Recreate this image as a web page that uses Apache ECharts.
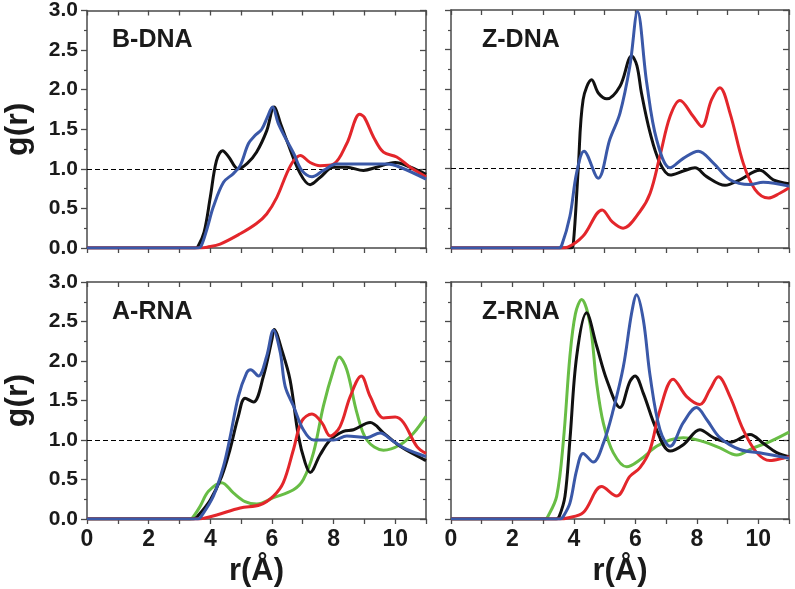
<!DOCTYPE html>
<html><head><meta charset="utf-8">
<script src="https://cdn.jsdelivr.net/npm/echarts@6/dist/echarts.min.js"></script>
<style>html,body{margin:0;padding:0;background:#fff}#c{width:795px;height:589px}</style>
</head><body><div id="c"></div>
<script>
// ---------- DATA (r in Å, g(r)) ----------
const panelNames = ['B-DNA', 'Z-DNA', 'A-RNA', 'Z-RNA'];
const xTickLabels = ['0', '2', '4', '6', '8', '10'];
const yTickLabels = ['0.0', '0.5', '1.0', '1.5', '2.0', '2.5', '3.0'];
const refLevel = 1.0;

const bdnaBlack = [[0,0],[3.5,0],[3.6,0.02],[3.8,0.2],[4.0,0.64],[4.2,1.1],[4.4,1.23],[4.6,1.15],[4.9,1.0],[5.2,1.07],[5.5,1.21],[5.83,1.48],[6.07,1.78],[6.3,1.55],[6.5,1.34],[6.92,0.94],[7.24,0.80],[7.56,0.89],[8.0,1.02],[8.43,1.02],[8.97,0.98],[9.4,1.02],[10.0,1.08],[10.5,1.02],[11,0.93]];
const bdnaRed = [[0,0],[3.7,0],[3.9,0.01],[4.32,0.05],[4.97,0.18],[5.5,0.31],[5.83,0.43],[6.16,0.64],[6.48,0.94],[6.7,1.1],[6.92,1.17],[7.24,1.08],[7.56,1.04],[8.0,1.06],[8.43,1.32],[8.85,1.69],[9.0,1.65],[9.3,1.4],[9.62,1.21],[10.05,1.15],[10.49,1.02],[11,0.9]];
const bdnaBlue = [[0,0],[3.6,0],[3.7,0.02],[3.9,0.25],[4.1,0.52],[4.43,0.83],[4.75,0.94],[4.97,1.04],[5.24,1.32],[5.45,1.42],[5.67,1.50],[5.85,1.65],[6.02,1.78],[6.2,1.58],[6.37,1.44],[6.7,1.2],[6.97,0.98],[7.3,0.9],[7.67,0.98],[8.1,1.06],[9.08,1.06],[9.73,1.06],[10.16,1.02],[11,0.87]];

const zdnaBlack = [[0,0],[3.9,0],[3.98,0.05],[4.14,0.99],[4.3,1.87],[4.58,2.12],[4.8,1.95],[5.07,1.88],[5.5,2.04],[5.88,2.42],[6.05,2.3],[6.2,1.95],[6.48,1.45],[6.8,1.07],[7.13,0.92],[7.56,0.97],[7.94,1.01],[8.32,0.9],[8.92,0.79],[9.4,0.86],[10.05,0.98],[10.49,0.86],[11,0.81]];
const zdnaRed = [[0,0],[3.6,0],[3.8,0.01],[4.3,0.15],[4.92,0.48],[5.25,0.33],[5.6,0.25],[6.15,0.46],[6.48,0.69],[6.8,1.16],[7.13,1.66],[7.45,1.86],[7.88,1.66],[8.16,1.53],[8.48,1.87],[8.75,2.02],[9.08,1.7],[9.51,1.07],[9.89,0.74],[10.33,0.63],[10.7,0.69],[11,0.76]];
const zdnaBlue = [[0,0],[3.5,0],[3.6,0.03],[3.87,0.4],[4.09,0.95],[4.33,1.22],[4.79,0.88],[5.17,1.37],[5.5,1.7],[5.82,2.29],[6.07,2.98],[6.37,2.08],[6.69,1.37],[7.13,1.01],[7.56,1.13],[8.05,1.22],[8.54,1.07],[9.08,0.86],[9.73,0.8],[10.16,0.83],[11,0.78]];

const arnaGreen = [[0,0],[3.35,0],[3.45,0.03],[3.67,0.16],[3.94,0.35],[4.37,0.46],[4.75,0.33],[5.13,0.22],[5.51,0.19],[6.05,0.27],[6.7,0.37],[7.02,0.5],[7.35,0.84],[7.67,1.43],[8.0,1.89],[8.18,2.05],[8.43,1.89],[8.76,1.34],[9.08,1.0],[9.62,0.87],[10.16,0.94],[10.6,1.09],[11,1.3]];
const arnaBlack = [[0,0],[3.45,0],[3.6,0.04],[4.0,0.24],[4.37,0.54],[4.64,0.88],[4.91,1.3],[5.13,1.53],[5.4,1.48],[5.72,1.8],[6.0,2.27],[6.07,2.4],[6.32,2.14],[6.59,1.76],[6.86,1.05],[7.08,0.71],[7.24,0.59],[7.56,0.81],[7.89,1.0],[8.32,1.11],[8.65,1.13],[9.19,1.22],[9.62,1.09],[10.16,0.92],[11,0.74]];
const arnaRed = [[0,0],[3.65,0],[3.8,0.01],[4.21,0.05],[4.97,0.14],[5.62,0.18],[6.05,0.29],[6.37,0.46],[6.7,0.88],[6.97,1.24],[7.3,1.33],[7.62,1.22],[7.89,1.05],[8.21,1.17],[8.54,1.55],[8.9,1.81],[9.19,1.55],[9.62,1.28],[10.0,1.29],[10.27,1.22],[10.7,0.92],[11,0.83]];
const arnaBlue = [[0,0],[3.6,0],[3.7,0.03],[4.1,0.29],[4.43,0.67],[4.64,1.03],[4.91,1.55],[5.18,1.85],[5.31,1.89],[5.56,1.81],[5.83,2.06],[6.05,2.39],[6.27,2.11],[6.43,1.68],[6.7,1.43],[7.02,1.13],[7.35,1.0],[8.0,1.0],[8.43,1.05],[9.08,1.03],[9.51,1.09],[9.95,0.98],[10.38,0.88],[11,0.79]];

const zrnaGreen = [[0,0],[3.05,0],[3.15,0.03],[3.44,0.29],[3.66,1.0],[3.87,2.06],[4.05,2.6],[4.25,2.78],[4.52,2.48],[4.74,1.72],[4.96,1.21],[5.28,0.84],[5.72,0.66],[6.15,0.75],[6.69,0.92],[7.13,1.0],[7.56,1.03],[8.21,0.98],[8.75,0.9],[9.3,0.81],[9.84,0.9],[10.38,0.98],[11,1.1]];
const zrnaBlack = [[0,0],[3.42,0],[3.52,0.03],[3.71,0.29],[3.87,1.0],[4.09,2.06],[4.41,2.61],[4.74,2.19],[5.07,1.76],[5.5,1.41],[5.82,1.74],[5.99,1.81],[6.26,1.59],[6.69,1.13],[7.13,0.86],[7.56,0.94],[8.1,1.13],[8.54,1.03],[9.08,0.97],[9.73,1.07],[10.16,0.96],[10.6,0.84],[11,0.79]];
const zrnaRed = [[0,0],[3.6,0],[3.75,0.01],[4.3,0.08],[4.9,0.41],[5.39,0.29],[5.82,0.54],[6.15,0.65],[6.48,0.88],[6.8,1.38],[7.23,1.77],[7.67,1.55],[8.1,1.45],[8.43,1.64],[8.7,1.8],[9.08,1.55],[9.51,1.13],[9.95,0.84],[10.38,0.74],[10.81,0.77],[11,0.79]];
const zrnaBlue = [[0,0],[3.55,0],[3.65,0.03],[3.87,0.2],[4.09,0.62],[4.3,0.83],[4.63,0.72],[4.96,0.96],[5.28,1.38],[5.61,1.93],[5.88,2.61],[6.04,2.84],[6.26,2.52],[6.48,1.81],[6.8,1.13],[7.13,0.92],[7.56,1.22],[7.99,1.41],[8.32,1.26],[8.75,1.03],[9.4,0.88],[10.16,0.83],[11,0.77]];

// ---------- STYLE ----------
const C = {black:'#111111', red:'#e3262b', blue:'#3a58a8', green:'#68bd45'};
const FONT = '"Liberation Sans", Arial, sans-serif';
const AX = '#4a4a4a';

const panels = [
  {name: panelNames[0], grid:{left:87, top:10, width:339, height:238}, xl:false, yl:true,
   series:[['black',bdnaBlack],['red',bdnaRed],['blue',bdnaBlue]]},
  {name: panelNames[1], grid:{left:451, top:10, width:338, height:238}, xl:false, yl:false,
   series:[['black',zdnaBlack],['red',zdnaRed],['blue',zdnaBlue]]},
  {name: panelNames[2], grid:{left:87, top:282, width:339, height:237}, xl:true, yl:true,
   series:[['green',arnaGreen],['black',arnaBlack],['red',arnaRed],['blue',arnaBlue]]},
  {name: panelNames[3], grid:{left:451, top:282, width:338, height:237}, xl:true, yl:false,
   series:[['green',zrnaGreen],['black',zrnaBlack],['red',zrnaRed],['blue',zrnaBlue]]}
];

const grids=[], xAxes=[], yAxes=[], series=[], titles=[];
panels.forEach((p,i)=>{
  grids.push(p.grid);
  // bottom x
  xAxes.push({gridIndex:i, type:'value', min:0, max:11, interval:1, position:'bottom',
    axisLine:{show:true, onZero:false, lineStyle:{color:AX,width:1.5}},
    axisTick:{show:true, inside:false, length:5, lineStyle:{color:AX,width:1.3}},
    splitLine:{show:false},
    axisLabel:{show:p.xl, margin:9, color:'#1a1a1a', fontSize:23, fontWeight:'bold', fontFamily:FONT,
      formatter:v=>{const k=xTickLabels.indexOf(String(v)); return k>=0?xTickLabels[k]:'';}},
    name: p.xl?'r(Å)':'', nameLocation:'middle', nameGap:37,
    nameTextStyle:{fontSize:31, fontWeight:'bold', color:'#1a1a1a', fontFamily:FONT}
  });
  // top x
  xAxes.push({gridIndex:i, type:'value', min:0, max:11, interval:1, position:'top',
    axisLine:{show:true, onZero:false, lineStyle:{color:AX,width:1.5}},
    axisTick:{show:true, inside:true, length:5, lineStyle:{color:AX,width:1.3}},
    splitLine:{show:false}, axisLabel:{show:false}});
  // left y
  yAxes.push({gridIndex:i, type:'value', min:0, max:3, interval:0.5, position:'left',
    axisLine:{show:true, onZero:false, lineStyle:{color:AX,width:1.5}},
    axisTick:{show:true, inside:false, length:6, lineStyle:{color:AX,width:1.3}},
    minorTick:{show:true, splitNumber:2, length:3, lineStyle:{color:AX,width:1.2}},
    splitLine:{show:false},
    axisLabel:{show:p.yl, margin:9, color:'#1a1a1a', fontSize:21, fontWeight:'bold', fontFamily:FONT,
      formatter:v=>yTickLabels[Math.round(v*2)]},
    name: p.yl?'g(r)':'', nameLocation:'middle', nameGap:53,
    nameTextStyle:{fontSize:32, fontWeight:'bold', color:'#1a1a1a', fontFamily:FONT}
  });
  // right y
  yAxes.push({gridIndex:i, type:'value', min:0, max:3, interval:0.5, position:'right',
    axisLine:{show:true, onZero:false, lineStyle:{color:AX,width:1.5}},
    axisTick:{show:true, inside:true, length:6, lineStyle:{color:AX,width:1.3}},
    minorTick:{show:true, splitNumber:2, length:3, lineStyle:{color:AX,width:1.2}},
    splitLine:{show:false}, axisLabel:{show:false}});
  p.series.forEach(([col,data],j)=>{
    const s = {type:'line', xAxisIndex:2*i, yAxisIndex:2*i, data:data, smooth:0.35,
      showSymbol:false, symbol:'none', clip:true, animation:false,
      lineStyle:{color:C[col], width:3}, z:3+j};
    if(j===0){
      s.markLine = {silent:true, symbol:['none','none'], label:{show:false}, animation:false,
        lineStyle:{color:'#000', type:[5,3], width:1.2}, data:[{yAxis:refLevel}], z:2};
    }
    series.push(s);
  });
  titles.push({text:p.name, left:p.grid.left+(i%2===0?25:31), top:p.grid.top+18, padding:0,
    textStyle:{fontSize:25, fontWeight:'bold', color:'#1a1a1a', fontFamily:FONT}});
});

const chart = echarts.init(document.getElementById('c'), null, {renderer:'canvas'});
chart.setOption({animation:false, title:titles, grid:grids, xAxis:xAxes, yAxis:yAxes, series:series});
</script></body></html>
